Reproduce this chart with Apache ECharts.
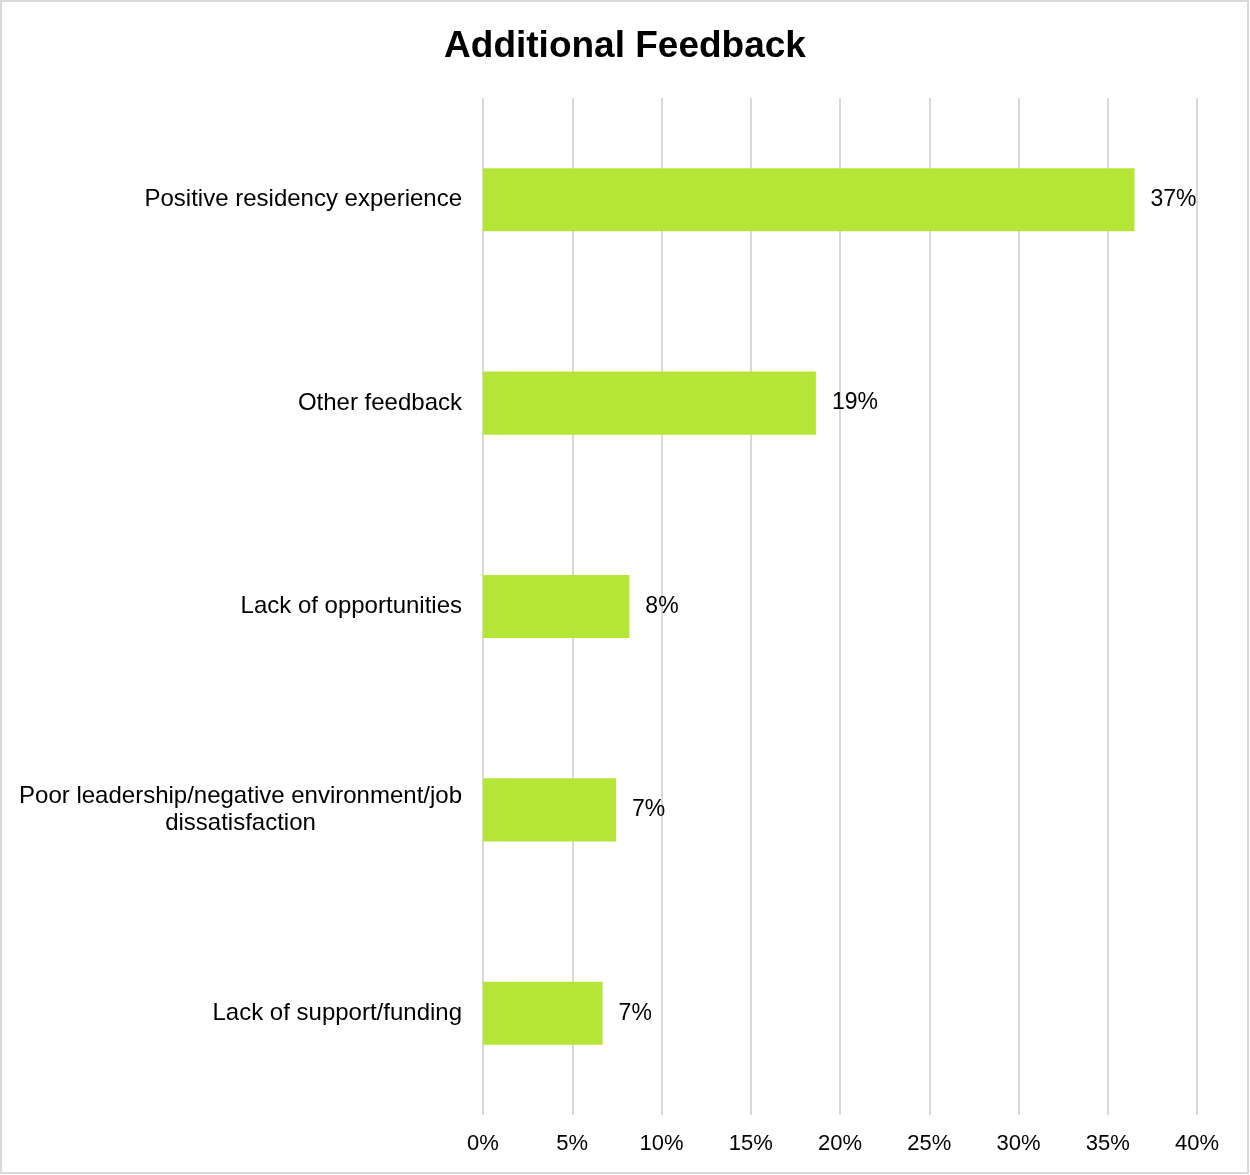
<!DOCTYPE html>
<html>
<head>
<meta charset="utf-8">
<script src="https://cdn.jsdelivr.net/npm/echarts@6/dist/echarts.min.js"></script>
<style>
html,body{margin:0;padding:0;background:#fff;}
#chart{width:1250px;height:1175px;}
</style>
</head>
<body>
<div id="chart"></div>
<script>
const categories = [
  "Positive residency experience",
  "Other feedback",
  "Lack of opportunities",
  "Poor leadership/negative environment/job\ndissatisfaction",
  "Lack of support/funding"
];
const values = [36.5, 18.65, 8.2, 7.45, 6.7];
const xTicks = { min: 0, max: 40, interval: 5 };

const FONT = 'Liberation Sans, Arial, sans-serif';
const chart = echarts.init(document.getElementById('chart'));
chart.setOption({
  backgroundColor: '#ffffff',
  animation: false,
  title: {
    text: 'Additional Feedback',
    left: 'center',
    top: 23,
    textStyle: { fontFamily: FONT, fontWeight: 'bold', fontSize: 37, color: '#000' }
  },
  graphic: [{
    type: 'rect',
    shape: { x: 1, y: 1, width: 1247, height: 1172 },
    style: { fill: 'none', stroke: '#d9d9d9', lineWidth: 2 },
    silent: true
  }],
  grid: { left: 483, right: 53, top: 98, bottom: 60, containLabel: false },
  xAxis: {
    type: 'value',
    min: xTicks.min, max: xTicks.max, interval: xTicks.interval,
    axisLine: { show: false },
    axisTick: { show: false },
    splitLine: { show: true, lineStyle: { color: '#d9d9d9', width: 2 } },
    axisLabel: {
      formatter: v => v + '%',
      fontFamily: FONT,
      fontSize: 22, color: '#000', margin: 18
    }
  },
  yAxis: {
    type: 'category',
    data: categories,
    inverse: true,
    axisLine: { show: false },
    axisTick: { show: false },
    axisLabel: {
      fontFamily: FONT,
      fontSize: 24, color: '#000', margin: 21,
      lineHeight: 27,
      formatter: v => v.split('\n').map(l => '{c|' + l + '}').join('\n'),
      rich: { c: { fontFamily: FONT, fontSize: 24, color: '#000', lineHeight: 27, align: 'center' } }
    }
  },
  series: [{
    type: 'bar',
    data: values,
    barWidth: '31%',
    itemStyle: { color: '#b5e637' },
    label: {
      show: true,
      position: 'right',
      distance: 16,
      formatter: p => Math.round(p.value) + '%',
      fontFamily: FONT,
      fontSize: 23, color: '#000'
    }
  }]
});
</script>
</body>
</html>
